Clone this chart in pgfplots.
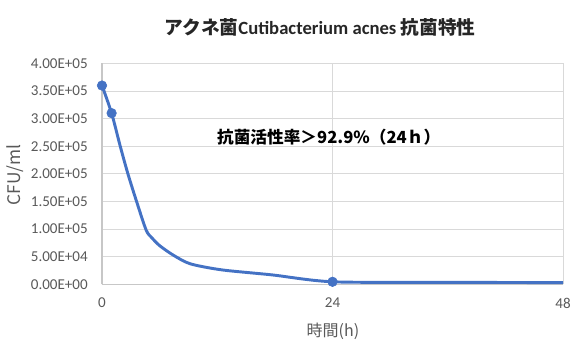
\documentclass[border=0pt]{standalone}
\usepackage{pgfplots}
\pgfplotsset{compat=1.18}
\usepackage{fontspec}
\setmainfont{Carlito}
\newfontfamily\cjk{Noto Sans CJK JP}
\definecolor{lineblue}{HTML}{4472C4}
\definecolor{txtgray}{HTML}{595959}
\definecolor{gridgray}{HTML}{D9D9D9}
\begin{document}
\begin{tikzpicture}
\path (-76.5pt,-50.8pt) rectangle (358.5pt,213.2pt);
\begin{axis}[
  at={(0,0)}, anchor=south west,
  scale only axis, width=345.75pt, height=165.6pt,
  xmin=0, xmax=48, ymin=0, ymax=400000,
  axis lines=left, axis line style={draw=black!22, line width=0.8pt, -},
  xtick={0,24,48}, xticklabels={0,24,48},
  ytick={0,50000,100000,150000,200000,250000,300000,350000,400000},
  yticklabels={0.00E+00,5.00E+04,1.00E+05,1.50E+05,2.00E+05,2.50E+05,3.00E+05,3.50E+05,4.00E+05},
  major tick length=0pt,
  grid=major, major grid style={draw=gridgray, line width=0.7pt},
  tick label style={font=\fontsize{11.3}{13}\selectfont, text=txtgray, inner sep=0pt},
  xticklabel style={anchor=north, yshift=-10pt},
  yticklabel style={anchor=east, xshift=-10.5pt},
  scaled y ticks=false,
  clip=false,
]
\addplot[lineblue, line width=2.2pt, smooth, tension=0.45] coordinates {
  (0,360000) (1,310000) (1.9,250000) (2.7,200000) (3.6,150000) (4.6,98000)
  (5.2,84000) (6.0,70000) (7.4,53000) (9.2,37000) (12.5,26000) (17.7,17000)
  (24,4500) (36,3500) (48,3000)
};
\addplot[lineblue, only marks, mark=*, mark size=3.6pt] coordinates {
  (0,360000) (1,310000) (24,4500)
};
\end{axis}
\node[font=\fontsize{14}{16}\selectfont\bfseries, text=black!85] at (163.5pt,193pt)
  {{\cjk アクネ菌}Cutibacterium acnes {\cjk 抗菌特性}};
\node[font=\fontsize{12.5}{15}\selectfont\bfseries\cjk, text=black] at (170pt,110.5pt)
  {抗菌活性率＞92.9\%（24ｈ）};
\node[font=\fontsize{12}{14}\selectfont\cjk, text=txtgray] at (173.25pt,-35pt)
  {時間(h)};
\node[font=\fontsize{13}{15}\selectfont\cjk, text=txtgray, rotate=90] at (-65.25pt,82pt)
  {CFU/ml};
\end{tikzpicture}
\end{document}
